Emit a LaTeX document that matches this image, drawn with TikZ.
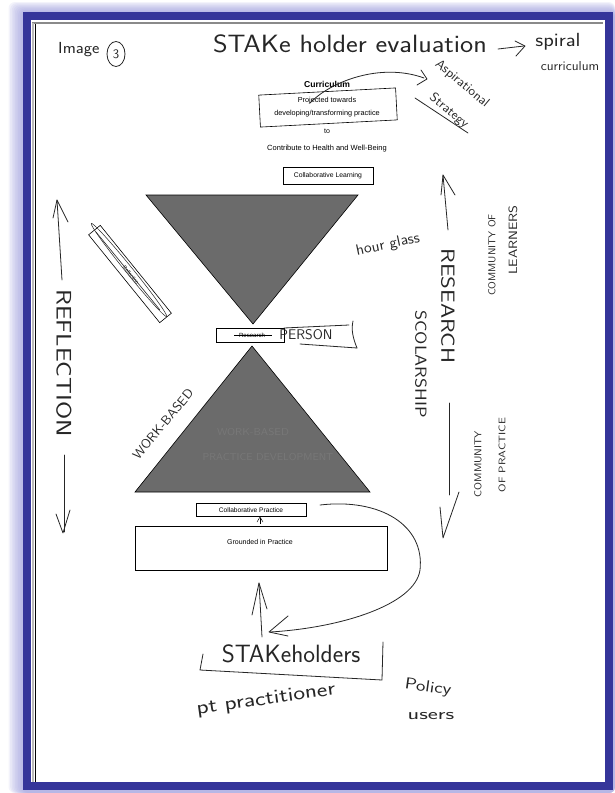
\documentclass[tikz,border=0pt]{standalone}
\usepackage{fontspec}
\setmainfont{Liberation Sans}
\usetikzlibrary{calc,shapes.geometric}
\definecolor{frameblue}{HTML}{35359A}
\definecolor{glowblue}{HTML}{9C9CDC}
\definecolor{ink}{HTML}{262626}
\definecolor{trifill}{HTML}{6B6B6B}
\definecolor{faintink}{HTML}{787878}
\definecolor{scanline}{HTML}{8A8A8A}
\newcommand{\fsz}[1]{\fontsize{#1}{#1}\selectfont}
% handwriting: size, horizontal stretch, text
\newcommand{\hw}[3]{\fontsize{#1}{#1}\selectfont\scalebox{#2}[1]{#3}}
\begin{document}
\begin{tikzpicture}[x=1pt,y=-1pt,
  pen/.style={draw=ink,line width=0.8pt,line cap=round,line join=round},
  hand/.style={font=\sffamily,text=ink,inner sep=0pt},
  printed/.style={text=black,inner sep=0pt},
  boxed/.style={draw=black,line width=0.6pt,inner sep=0pt},
  tri/.style={fill=trifill,draw=black,line width=0.6pt}]
\useasboundingbox (0,0) rectangle (615,793);

% soft glow round the frame
\foreach \i in {0,...,9}{
  \fill[glowblue,opacity=0.12,rounded corners=6pt] (23-1.6*\i,12-1.1*\i) rectangle (615,793);
}
% frame and page
\fill[frameblue] (23,12) rectangle (613,790);
\fill[white] (31,20) rectangle (605,782);
\draw[scanline,line width=1.6pt] (32,23) -- (603,23);
\draw[scanline!60,line width=1.2pt] (33,23) -- (33,782);
\draw[black,line width=1.1pt] (35.5,24) -- (35.5,782);

% header notes
\node[hand,anchor=west] (imglabel) at (58,50) {\hw{16}{1.1}{Image}};
\node[hand,draw=ink,ellipse,line width=0.8pt,inner sep=0pt,minimum width=18pt,minimum height=25pt] (imgnum) at (116,54) {\fsz{13}3};
\node[hand] (stakeeval) at (350,44) {\hw{25}{1.12}{STAKe holder evaluation}};
\coordinate (spa) at (498,49);
\coordinate (spb) at (524,46);
\draw[pen] (spa) -- (spb);
\draw[pen] (515,41) -- (525,46) -- (516,56);
\node[hand] (spiral) at (558,42) {\hw{19}{1.15}{spiral}};
\node[hand] (curil) at (570,66) {\hw{13}{1.05}{curriculum}};

% curriculum block
\node[printed,font=\bfseries] (curric) at (327,84) {\fsz{8.6}Curriculum};
\node[boxed,rotate=3,minimum width=137pt,minimum height=32pt] (projbox) at (328,107.5) {};
\node[printed,align=center] (projtext) at (327,107.5) {\fsz{7.3}Projected towards\\[1pt]\fsz{7.3}developing/transforming practice};
\node[printed] (to) at (327,131) {\fsz{7}to};
\node[printed] (contrib) at (327,149) {\fsz{7.5}Contribute to Health and Well-Being};
\node[boxed,minimum width=90pt,minimum height=17pt] (colllearn) at (328,175.5) {\fsz{6.8}Collaborative Learning};

% aspirational note with its arrow
\coordinate (asp0) at (310,103);
\coordinate (asp1) at (424,78);
\draw[pen] (asp0) .. controls (330,82) and (380,62) .. (asp1);
\draw[pen] (421,70) -- (427,79) -- (417,85);
\node[hand,rotate=-40] (aspir) at (462,84) {\hw{13}{1.05}{Aspirational}};
\node[hand,rotate=-40] (strat) at (449,111) {\hw{13}{1.05}{Strategy}};
\coordinate (ul0) at (415,98);
\coordinate (ul1) at (468,133);
\draw[pen] (ul0) -- (ul1);

% hour glass
\coordinate (ta) at (146,195);
\coordinate (tb) at (358,195);
\coordinate (tc) at (253,324);
\fill[tri] (ta) -- (tb) -- (tc) -- cycle;
\coordinate (ba) at (252,346);
\coordinate (bb) at (370,492);
\coordinate (bc) at (135,492);
\fill[tri] (ba) -- (bb) -- (bc) -- cycle;
\node[hand,text=faintink] (wbp1) at (253,432) {\hw{10}{1.1}{WORK-BASED}};
\node[hand,text=faintink] (wbp2) at (268,457) {\hw{10}{1.05}{PRACTICE DEVELOPMENT}};
\node[hand,rotate=50] (workbased) at (163,424) {\hw{13}{1.05}{WORK-BASED}};
\node[hand,rotate=12] (hourglass) at (388,245) {\hw{15}{1.05}{hour glass}};

% reflection bar
\node[boxed,rotate=-51,minimum width=113pt,minimum height=15pt] (reflbar) at (130,274) {};
\draw[pen,line width=0.5pt,rotate around={-51:(129,270)}] (129,270) ellipse (60pt and 3.5pt);
\node[printed,rotate=-51] (refltext) at (131,275) {\fsz{5}Reflection};
\draw[pen,line width=0.6pt] (96,232) -- (160,310);

% research / person
\node[boxed,minimum width=68pt,minimum height=14pt] (resbox) at (250,335) {};
\node[printed] (restext) at (252,335.5) {\fsz{6}Research};
\draw[black,line width=0.6pt] (234,335) -- (272,335);
\node[hand] (person) at (306,335) {\hw{14}{1.0}{PERSON}};
\draw[pen] (284,328) -- (349,325);
\draw[pen] (353,321) .. controls (351,330) and (353,338) .. (357,348);
\draw[pen] (357,348) -- (300,344);

% practice block
\node[boxed,minimum width=110pt,minimum height=13.5pt] (collprac) at (251,510) {\fsz{6.6}Collaborative Practice};
\node[boxed,minimum width=252pt,minimum height=44pt] (grounded) at (261,548) {};
\node[printed] (groundtext) at (260,542) {\fsz{7}Grounded in Practice};
\coordinate (gp0) at (260,524);
\coordinate (gp1) at (260,518);
\draw[black,line width=0.5pt] (gp0) -- (gp1);
\draw[black,line width=0.5pt] (257,522) -- (260,517) -- (263,522);

% loop from collaborative practice to stakeholders
\coordinate (lp0) at (320,505);
\coordinate (lp1) at (270,632);
\draw[pen] (lp0) .. controls (380,498) and (425,525) .. (420,570)
               .. controls (415,605) and (340,628) .. (lp1);
\draw[pen] (288,616) -- (269,632) -- (288,636);

% stakeholders
\coordinate (up0) at (262,637);
\coordinate (up1) at (259,583);
\draw[pen] (up0) -- (up1);
\draw[pen] (252,615) -- (259,583) -- (267,609);
\node[hand] (stake) at (291,654) {\hw{25}{1.0}{STAKeholders}};
\draw[pen] (203,654) -- (200,670) -- (382,680) -- (383,642);
\node[hand,rotate=8] (ptprac) at (266,700) {\hw{20}{1.25}{pt practitioner}};
\node[hand,rotate=-8] (policy) at (428,688) {\hw{16}{1.25}{Policy}};
\node[hand] (users) at (431,716) {\hw{16}{1.5}{users}};

% reflection (left)
\node[hand,rotate=-90] (reflection) at (64,363) {\hw{21}{1.25}{REFLECTION}};
\coordinate (rf0) at (62,280);
\coordinate (rf1) at (57,200);
\draw[pen] (rf0) -- (rf1);
\draw[pen] (53,218) -- (57,200) -- (68,222);
\coordinate (rf2) at (64,455);
\coordinate (rf3) at (64,532);
\draw[pen] (rf2) -- (rf3);
\draw[pen] (56,514) -- (63,533) -- (70,510);

% research / scholarship (right)
\coordinate (rs0) at (448,230);
\coordinate (rs1) at (443,175);
\draw[pen] (rs0) -- (rs1);
\draw[pen] (441,195) -- (443,175) -- (455,195);
\node[hand,rotate=-90] (research) at (448,306) {\hw{19}{1.28}{RESEARCH}};
\node[hand,rotate=-90] (scholar) at (421,364) {\hw{16}{1.2}{SCOLARSHIP}};
\coordinate (rs2) at (449,403);
\coordinate (rs3) at (449,495);
\draw[pen] (rs2) -- (rs3);
\draw[pen] (440,507) -- (443,538) -- (459,492);
\node[hand,rotate=90] (commlearn) at (492,255) {\hw{10}{1.05}{COMMUNITY OF}};
\node[hand,rotate=90] (learners) at (513,240) {\hw{12}{1.2}{LEARNERS}};
\node[hand,rotate=90] (commprac) at (478,464) {\hw{10}{1.08}{COMMUNITY}};
\node[hand,rotate=90] (ofprac) at (502,455) {\hw{9.5}{1.22}{OF PRACTICE}};
\end{tikzpicture}
\end{document}
